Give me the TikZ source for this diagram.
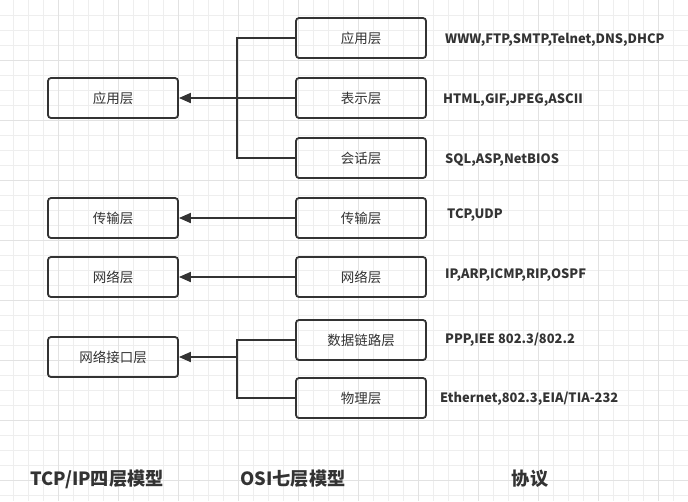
\documentclass[tikz,border=0pt]{standalone}
\usepackage{fontspec}
\setmainfont{Noto Sans CJK SC}
\usetikzlibrary{arrows.meta}
\definecolor{gridlight}{HTML}{EEEEEE}
\definecolor{griddark}{HTML}{E2E2E2}
\definecolor{ink}{HTML}{333333}
\tikzset{
  layerbox/.style={draw=ink, line width=1.8pt, rounded corners=3pt, minimum width=130pt, minimum height=40pt, inner sep=0pt, text=ink, font=\fontsize{13.5}{15}\selectfont},
  proto/.style={anchor=west, inner sep=0pt, text=ink, font=\bfseries\fontsize{12.9}{14}\selectfont},
  title/.style={inner sep=0pt, text=ink, font=\bfseries\fontsize{18.2}{20}\selectfont},
  wire/.style={draw=ink, line width=1.8pt},
  arrowwire/.style={wire, -{Triangle[length=12pt,width=10pt]}}
}
\begin{document}
\begin{tikzpicture}[x=1pt,y=1pt]
\useasboundingbox (0,0) rectangle (688,-501);
\fill[white] (0,0) rectangle (688,-501);
% grid
\foreach \i in {0,...,45} {
  \draw[gridlight, line width=0.8pt] (13.3+15*\i,0) -- (13.3+15*\i,-501);
}
\foreach \j in {1,...,33} {
  \draw[gridlight, line width=0.8pt] (0,-15*\j) -- (688,-15*\j);
}
\foreach \i in {0,...,10} {
  \draw[griddark, line width=0.8pt] (58.3+60*\i,0) -- (58.3+60*\i,-501);
}
\foreach \j in {1,...,8} {
  \draw[griddark, line width=0.8pt] (0,-60*\j) -- (688,-60*\j);
}
% left column
\node[layerbox] (L1) at (113,-98) {应用层};
\node[layerbox] (L2) at (113,-218) {传输层};
\node[layerbox] (L3) at (113,-277) {网络层};
\node[layerbox] (L4) at (113,-357) {网络接口层};
% middle column
\node[layerbox] (M1) at (361,-38) {应用层};
\node[layerbox] (M2) at (361,-98) {表示层};
\node[layerbox] (M3) at (361,-158) {会话层};
\node[layerbox] (M4) at (361,-218) {传输层};
\node[layerbox] (M5) at (361,-277) {网络层};
\node[layerbox] (M6) at (361,-340) {数据链路层};
\node[layerbox] (M7) at (361,-398) {物理层};
% protocols
\node[proto] (P1) at (445,-40) {WWW,FTP,SMTP,Telnet,DNS,DHCP};
\node[proto] (P2) at (443,-100) {HTML,GIF,JPEG,ASCII};
\node[proto] (P3) at (445,-160) {SQL,ASP,NetBIOS};
\node[proto] (P4) at (447,-215) {TCP,UDP};
\node[proto] (P5) at (445,-275) {IP,ARP,ICMP,RIP,OSPF};
\node[proto] (P6) at (445,-340) {PPP,IEE 802.3/802.2};
\node[proto] (P7) at (440,-399) {Ethernet,802.3,EIA/TIA-232};
% titles
\node[title] (T1) at (97,-479) {TCP/IP四层模型};
\node[title] (T2) at (293,-479) {OSI七层模型};
\node[title] (T3) at (530,-479) {协议};
% junctions
\coordinate (J1) at (237,-98);
\coordinate (J2) at (237,-357);
% connectors
\draw[wire] (M1.west) -| (J1);
\draw[wire] (M3.west) -| (J1);
\draw[arrowwire] (M2.west) -- (L1.east);
\draw[arrowwire] (M4.west) -- (L2.east);
\draw[arrowwire] (M5.west) -- (L3.east);
\draw[wire] (M6.west) -| (J2);
\draw[wire] (M7.west) -| (J2);
\draw[arrowwire] (J2) -- (L4.east);
\end{tikzpicture}
\end{document}
